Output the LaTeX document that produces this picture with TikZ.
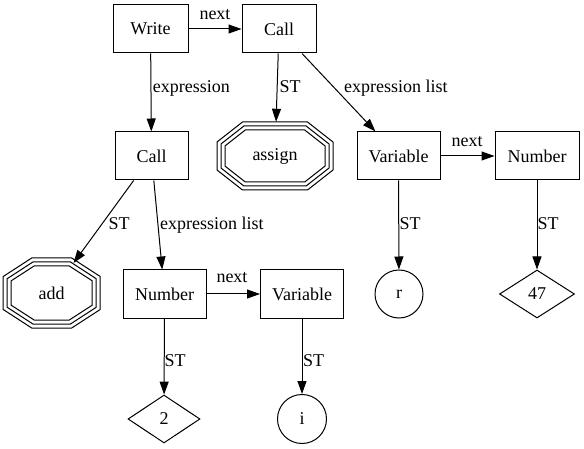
\documentclass[tikz,border=0pt]{standalone}
\usepackage{fontspec}
\setmainfont{Liberation Serif}
\usetikzlibrary{shapes.geometric,arrows.meta,calc}
\newcommand\octagonpath[5]{%
  \draw[line width=1pt] ($(#1)+(-#4,-#3)$) -- ($(#1)+(#4,-#3)$) -- ($(#1)+(#2,-#5)$) -- ($(#1)+(#2,#5)$) -- ($(#1)+(#4,#3)$) -- ($(#1)+(-#4,#3)$) -- ($(#1)+(-#2,#5)$) -- ($(#1)+(-#2,-#5)$) -- cycle;}
\tikzset{
  every node/.style={font=\fontsize{18}{20}\selectfont},
  rbox/.style={draw, rectangle, line width=1pt, inner sep=0pt, minimum height=48pt},
  rcirc/.style={draw, circle, line width=1pt, inner sep=0pt},
  rdiam/.style={draw, diamond, aspect=1.5, line width=1pt, inner sep=0pt},
  roct/.style={ellipse, draw=none, inner sep=0pt},
  conn/.style={line width=1pt, -{Triangle[length=13pt,width=9pt]}},
  lbl/.style={inner sep=0pt, anchor=base west},
}
\begin{document}
\begin{tikzpicture}[x=1pt,y=-1pt]
\useasboundingbox (0,0) rectangle (584,449);
% nodes
\node[rbox, minimum width=75pt] (write) at (150.5,29) {Write};
\node[rbox, minimum width=74pt] (call1) at (279,29) {Call};
\node[rbox, minimum width=73pt] (call2) at (151.5,156) {Call};
\node[roct, minimum width=116pt, minimum height=68pt] (assign) at (275,156) {assign};
\node[rbox, minimum width=83pt] (varR) at (398.5,156) {Variable};
\node[rbox, minimum width=84pt] (numR) at (537,156) {Number};
\node[roct, minimum width=97pt, minimum height=70pt] (add) at (51.7,293) {add};
\node[rbox, minimum width=83pt] (numL) at (164.5,294) {Number};
\node[rbox, minimum width=83pt] (varM) at (302,294) {Variable};
\node[rcirc, minimum size=48pt] (r) at (399,294) {r};
\node[rdiam, minimum width=75pt, minimum height=48pt] (n47) at (537,294) {47};
\node[rdiam, minimum width=72pt, minimum height=48pt] (n2) at (164,419) {2};
\node[rcirc, minimum size=49pt] (i) at (302,419) {i};
% octagon outlines
\octagonpath{assign}{58}{34}{32.5}{14}
\octagonpath{assign}{54}{30}{31.1}{12.05}
\octagonpath{assign}{50}{26}{29.7}{10.1}
\octagonpath{add}{48.5}{35}{20}{16.5}
\octagonpath{add}{44.5}{31}{18.8}{14.3}
\octagonpath{add}{40.5}{27}{17.6}{12.2}
% connectors
\draw[conn] (write) -- (call1);
\draw[conn] (write) -- (call2);
\draw[conn] (call1) -- (assign);
\draw[conn] (call1) -- (varR);
\draw[conn] (varR) -- (numR);
\draw[conn] (varR) -- (r);
\draw[conn] (numR) -- (n47);
\draw[conn, shorten >=-1.5pt] (call2) -- (add);
\draw[conn] (call2) -- (numL);
\draw[conn] (numL) -- (varM);
\draw[conn] (numL) -- (n2);
\draw[conn] (varM) -- (i);
% labels
\node[inner sep=0pt, anchor=base] (l1) at (215,19.5) {next};
\node[lbl] (l2) at (152.7,92.3) {expression};
\node[lbl] (l3) at (279.5,92.3) {ST};
\node[lbl] (l4) at (344,92.3) {expression list};
\node[inner sep=0pt, anchor=base] (l5) at (467,146.5) {next};
\node[lbl] (l6) at (399.5,230) {ST};
\node[lbl] (l7) at (537.5,230) {ST};
\node[lbl] (l8) at (108.5,230) {ST};
\node[lbl] (l9) at (160,230) {expression list};
\node[inner sep=0pt, anchor=base] (l10) at (232,283) {next};
\node[lbl] (l11) at (164.5,366.7) {ST};
\node[lbl] (l12) at (303,366.7) {ST};
\end{tikzpicture}
\end{document}
